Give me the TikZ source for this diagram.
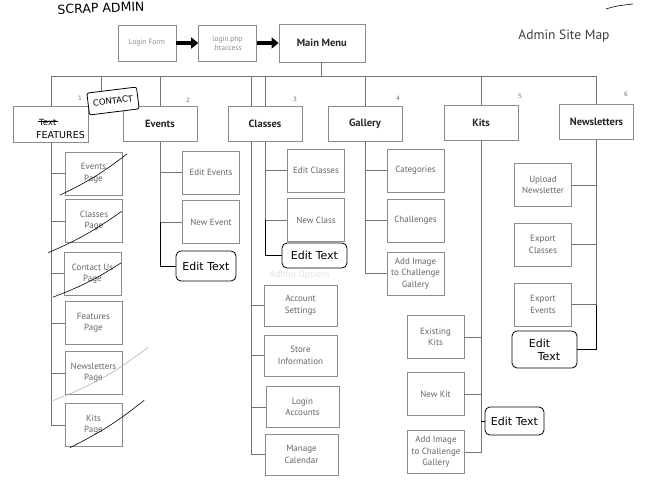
\documentclass[tikz,border=0pt]{standalone}
\usepackage{fontspec}
\setmainfont{PT Sans}
\newfontfamily\handfont{DejaVu Sans}
\usetikzlibrary{positioning, arrows.meta, calc}
\definecolor{boxline}{HTML}{8C8C8C}
\definecolor{pagetext}{HTML}{666666}
\definecolor{faintgray}{HTML}{E2E2E2}

\begin{document}
\begin{tikzpicture}[x=1pt, y=-1pt, >=Stealth, node distance=22pt,
    page/.style={draw=boxline, fill=white, text=pagetext, align=center,
      font=\fontsize{9}{11.5}\selectfont, minimum width=57pt, minimum height=43pt, inner sep=1pt},
    adminpage/.style={page, minimum width=73pt, minimum height=41pt},
    topbox/.style={draw=boxline, fill=white, text=black!85,
      font=\bfseries\fontsize{10.5}{12}\selectfont, minimum width=74pt, minimum height=35pt, inner sep=1pt},
    loginbox/.style={draw=boxline, fill=white, text=black!45, align=center,
      font=\fontsize{7.5}{9}\selectfont, minimum width=58pt, minimum height=36pt, inner sep=1pt},
    link/.style={draw=black!55, line width=0.7pt},
    handline/.style={draw=black, line width=0.8pt},
    hand/.style={font=\handfont\fontsize{11}{13}\selectfont, inner sep=1pt},
    note/.style={hand, draw=black, line width=0.8pt, rounded corners=5pt, fill=white,
      minimum width=60pt, minimum height=30pt},
    num/.style={font=\handfont\fontsize{6}{7}\selectfont, text=black!55},
    bigarrow/.style={draw=black, line width=3.5pt, -{Triangle[length=7pt, width=11pt]}}]
  \useasboundingbox (0,0) rectangle (651,500);

  % heading
  \node[hand, font=\handfont\fontsize{12.5}{14}\selectfont, rotate=2] (ttl) at (101,8) {SCRAP ADMIN};
  \node[font=\fontsize{13.5}{15}\selectfont, text=black!75] (smap) at (564,36) {Admin Site Map};
  \draw[handline, line width=0.6pt] (606,9) .. controls (616,6) .. (633,4);

  % login chain
  \node[loginbox] (lf) at (147,43) {Login Form};
  \node[loginbox, right=of lf] (lp) {login.php\\.htaccess};
  \node[topbox, right=of lp, minimum width=86pt, minimum height=38pt] (mm) {Main Menu};
  \draw[bigarrow] (lf) -- (lp);
  \draw[bigarrow] (lp) -- (mm);

  % sections
  \node[topbox, minimum width=75pt, minimum height=36pt] (feat) at (51,124) {};
  \node[topbox] (ev)  at (160,124)   {Events};
  \node[topbox] (cls) at (265,124)   {Classes};
  \node[topbox] (gal) at (365,123.5) {Gallery};
  \node[topbox] (kit) at (481,123)   {Kits};
  \node[topbox] (nws) at (596.5,122) {Newsletters};
  \node[num] (n1) at (80,98)  {1};
  \node[num] (n2) at (188,100) {2};
  \node[num] (n3) at (295,99) {3};
  \node[num] (n4) at (398,98) {4};
  \node[num] (n5) at (520,96) {5};
  \node[num] (n6) at (626,94) {6};

  % features scribbles
  \node[hand, font=\handfont\fontsize{8.5}{10}\selectfont, anchor=west] (ftx) at (38,122) {Text};
  \draw[handline, line width=1pt] (ftx.west) -- (ftx.east);
  \node[hand, font=\handfont\fontsize{9.5}{11}\selectfont, anchor=west] (ffe) at (35,135) {FEATURES};
  \node[note, font=\handfont\fontsize{8.5}{10}\selectfont, rotate=7, rounded corners=2pt,
        minimum width=50pt, minimum height=22pt] (cnt) at (113,101) {CONTACT};
  \coordinate (ct) at ($(cnt.north west)!0.3!(cnt.north east)$);

  % bus
  \coordinate (bus) at (322,76);
  \coordinate (adm) at (251,76);
  \draw[link] (mm.south) -- (mm.south |- bus);
  \draw[link] (feat.north) -- (feat.north |- bus) -- (nws.north |- bus) -- (nws.north);
  \draw[link] (ev.north) -- (ev.north |- bus);
  \draw[link] (cls.north) -- (cls.north |- bus);
  \draw[link] (gal.north) -- (gal.north |- bus);
  \draw[link] (kit.north) -- (kit.north |- bus);
  \draw[link] (adm) -- (adm |- cls.north);
  \draw[link] (ct |- bus) -- (ct);

  % features pages
  \node[page] (evp) at (93.5,173.5) {Events\\Page};
  \node[page] (clp) at (94,221)     {Classes\\Page};
  \node[page] (cup) at (92.5,273.5) {Contact Us\\Page};
  \node[page] (ftp) at (93.5,323)   {Features\\Page};
  \node[page] (nlp) at (93.5,373)   {Newsletters\\Page};
  \node[page] (ktp) at (93.5,425)   {Kits\\Page};
  \draw[link] (feat.south) |- (evp.west);
  \draw[link] (feat.south) |- (clp.west);
  \draw[link] (feat.south) |- (cup.west);
  \draw[link] (feat.south) |- (ftp.west);
  \draw[link] (feat.south) |- (nlp.west);
  \draw[link] (feat.south) |- (ktp.west);
  \draw[handline, line width=0.6pt] ($(evp.south west)+(-5,0)$) to[bend right=6] ($(evp.north east)+(5,2)$);
  \draw[handline, line width=0.6pt] ($(clp.south west)+(-17,10)$) to[bend right=6] ($(clp.north east)+(-1,12)$);
  \draw[handline, line width=0.6pt] ($(cup.south west)+(-11,2)$) to[bend right=6] ($(cup.north east)+(0,11)$);
  \draw[black!35, line width=0.5pt] ($(nlp.south west)+(-12,6)$) to[bend right=8] ($(nlp.north east)+(26,-4)$);
  \draw[handline, line width=0.6pt] ($(ktp.south west)+(5,1)$) to[bend right=6] ($(ktp.north east)+(22,-3)$);

  % events
  \node[page] (ede) at (211,172.5) {Edit Events};
  \node[page] (nev) at (211,222)   {New Event};
  \node[note] (et1) at (206,266)   {Edit Text};
  \draw[link] (ev.south) |- (ede.west);
  \draw[link] (ev.south) |- (nev.west);
  \draw[handline] (ev.south |- nev.west) |- (et1.west);

  % classes
  \node[page] (edc) at (316,170.5) {Edit Classes};
  \node[page] (ncl) at (316,220)   {New Class};
  \node[note, minimum width=65pt, minimum height=25pt] (et2) at (314.5,255.5) {Edit Text};
  \draw[link] (cls.south) |- (edc.west);
  \draw[link] (cls.south) |- (ncl.west);
  \draw[handline] (cls.south |- ncl.west) |- (et2.west);

  % admin options
  \node[text=faintgray, font=\fontsize{9.5}{11}\selectfont] (aop) at (300,275) {Admin Options};
  \node[adminpage] (acs) at (300.5,305.5) {Account\\Settings};
  \node[adminpage] (sti) at (300.5,355.5) {Store\\Information};
  \node[adminpage] (lga) at (302.5,407)   {Login\\Accounts};
  \node[adminpage] (mcl) at (301.5,454.5) {Manage\\Calendar};
  \draw[link] (adm |- cls.south) |- (acs.west);
  \draw[link] (adm |- cls.south) |- (sti.west);
  \draw[link] (adm |- cls.south) |- (lga.west);
  \draw[link] (adm |- cls.south) |- (mcl.west);

  % gallery
  \node[page] (cat) at (415.5,170.5) {Categories};
  \node[page] (chl) at (415.5,220.5) {Challenges};
  \node[page] (aig) at (415.5,273.5) {Add Image\\to Challenge\\Gallery};
  \draw[link] (gal.south) |- (cat.west);
  \draw[link] (gal.south) |- (chl.west);
  \draw[link] (gal.south) |- (aig.west);

  % kits
  \node[page] (exk) at (435.5,337) {Existing\\Kits};
  \node[page] (nkt) at (435.5,394) {New Kit};
  \node[page] (aik) at (436,452)   {Add Image\\to Challenge\\Gallery};
  \node[note, minimum width=59pt, minimum height=28pt] (et3) at (514.5,421) {Edit Text};
  \draw[link] (kit.south) |- (exk.east);
  \draw[link] (kit.south) |- (nkt.east);
  \draw[link] (kit.south) |- (aik.east);
  \draw[handline] (kit.south |- et3.west) -- (et3.west);

  % newsletters
  \node[page] (upn) at (543,185)   {Upload\\Newsletter};
  \node[page] (exc) at (543,244.5) {Export\\Classes};
  \node[page] (exe) at (543,304.5) {Export\\Events};
  \node[note, align=left, minimum width=65pt, minimum height=37pt] (et4) at (544.5,349.5) {Edit\\\hspace*{9pt}Text};
  \draw[link] (nws.south) |- (upn.east);
  \draw[link] (nws.south) |- (exc.east);
  \draw[link] (nws.south) |- (exe.east);
  \draw[handline] (nws.south |- exe.east) |- (et4.east);
\end{tikzpicture}
\end{document}
